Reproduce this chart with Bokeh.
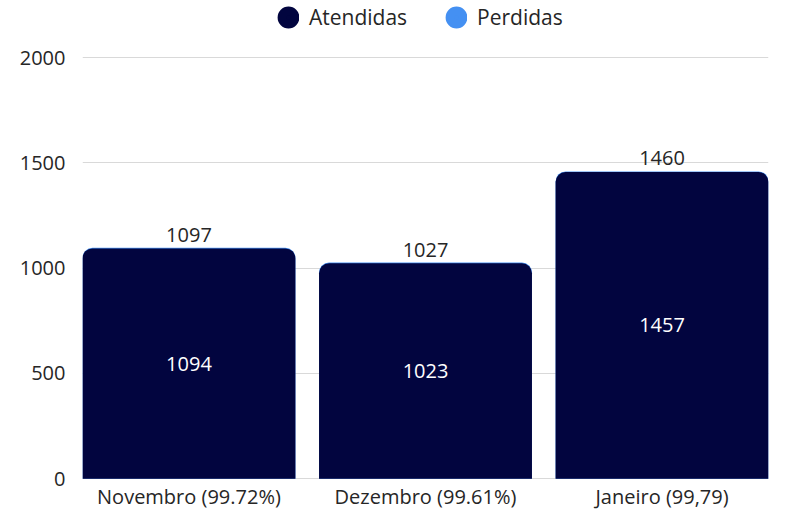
from bokeh.plotting import figure
from bokeh.models import ColumnDataSource, Range1d, FixedTicker, Legend, LegendItem
from bokeh.core.properties import value
from bokeh.embed import file_html
from bokeh.resources import INLINE

# ---- data ----
categories = ["Novembro (99.72%)", "Dezembro (99.61%)", "Janeiro (99,79)"]
atendidas = [1094, 1023, 1457]
perdidas = [3, 4, 3]
y_ticks = [0, 500, 1000, 1500, 2000]
series_names = ["Atendidas", "Perdidas"]

NAVY = "#02053f"
BLUE = "#4490f2"
FONT = "Open Sans"
TEXT = "#262626"

xs = list(range(len(categories)))
totals = [a + b for a, b in zip(atendidas, perdidas)]
src = ColumnDataSource(dict(
    x=xs,
    atendidas=atendidas,
    total=totals,
    half=[a / 2 for a in atendidas],
    total_txt=[str(t) for t in totals],
    at_txt=[str(a) for a in atendidas],
))

# the frame reaches the top of the canvas; the upper band holds the legend
p = figure(width=788, height=512,
           x_range=Range1d(-0.45, len(categories) - 0.55),
           y_range=Range1d(y_ticks[0] - 4, 2272),
           output_backend="svg", toolbar_location=None,
           min_border_left=82, min_border_right=20,
           min_border_top=0, min_border_bottom=29)
p.outline_line_color = None
p.background_fill_color = "white"
p.border_fill_color = "white"

# legend carriers (hidden; drawn first so bars would cover them anyway)
r1 = p.scatter(x="x", y="half", source=src, marker="circle", size=4,
               fill_color=NAVY, line_color=NAVY, line_width=13)
r2 = p.scatter(x="x", y="half", source=src, marker="circle", size=4,
               fill_color=BLUE, line_color=BLUE, line_width=13)
r1.visible = False
r2.visible = False

# stacked bars: Perdidas on top of Atendidas
p.vbar(x="x", bottom=0, top="total", width=0.9, fill_color=BLUE,
       line_color=None, border_radius=(10, 10, 0, 0), source=src)
p.vbar(x="x", bottom=0, top="atendidas", width=0.9, fill_color=NAVY,
       line_color=None, border_radius=(10, 10, 0, 0), source=src)

p.text(x="x", y="total", text="total_txt", source=src,
       text_font=value(FONT), text_font_size="20px", text_color=TEXT,
       text_align="center", text_baseline="middle", y_offset=-13)
p.text(x="x", y="half", text="at_txt", source=src,
       text_font=value(FONT), text_font_size="20px", text_color="white",
       text_align="center", text_baseline="middle")

# axes
p.xaxis.ticker = FixedTicker(ticks=xs)
p.xaxis.major_label_overrides = {x: c for x, c in zip(xs, categories)}
p.xaxis.axis_line_color = None
p.xaxis.major_tick_line_color = None
p.xaxis.minor_tick_line_color = None
p.xaxis.major_tick_out = 0
p.xaxis.major_tick_in = 0
p.xaxis.major_label_standoff = 3
p.xaxis.major_label_text_font = FONT
p.xaxis.major_label_text_font_size = "20px"
p.xaxis.major_label_text_color = TEXT

p.yaxis.ticker = FixedTicker(ticks=y_ticks)
p.yaxis.axis_line_color = None
p.yaxis.major_tick_line_color = None
p.yaxis.minor_tick_line_color = None
p.yaxis.major_tick_out = 0
p.yaxis.major_tick_in = 0
p.yaxis.major_label_standoff = 17
p.yaxis.major_label_text_font = FONT
p.yaxis.major_label_text_font_size = "20px"
p.yaxis.major_label_text_color = TEXT

p.xgrid.visible = False
p.ygrid.grid_line_color = "#d9d9d9"
p.ygrid.grid_line_width = 1

legend = Legend(items=[LegendItem(label=series_names[0], renderers=[r1]),
                       LegendItem(label=series_names[1], renderers=[r2])],
                orientation="horizontal", location=(195, 448),
                glyph_width=22, glyph_height=28, label_standoff=10,
                spacing=38, padding=0, margin=0, click_policy="none",
                border_line_color=None, background_fill_alpha=0,
                label_text_font=FONT, label_text_font_size="21px",
                label_text_color=TEXT)
p.add_layout(legend)

open("out.html", "w").write(file_html(p, INLINE))
